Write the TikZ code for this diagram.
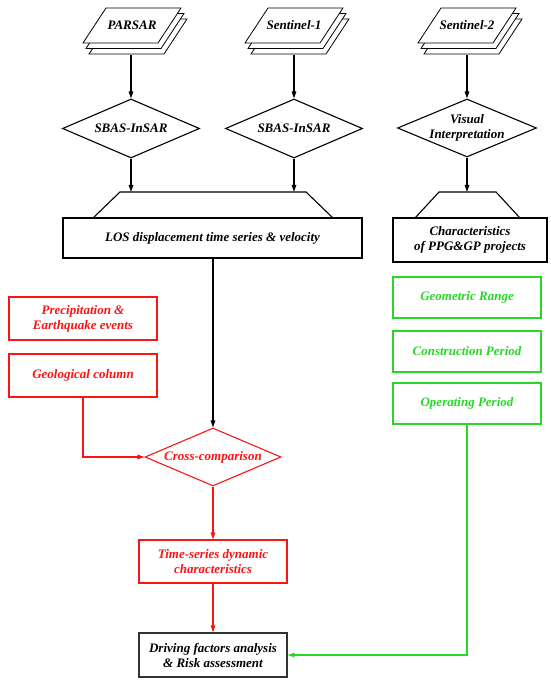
\documentclass[tikz,border=0pt]{standalone}
\usepackage{fontspec}
\setmainfont{Liberation Serif}
\usetikzlibrary{arrows.meta,shapes.geometric}
\definecolor{myred}{RGB}{250,20,20}
\definecolor{mygreen}{RGB}{40,215,40}
\definecolor{mygrey}{RGB}{50,50,50}
\begin{document}
\begin{tikzpicture}[x=1pt,y=-1pt,
  txt/.style={font=\fontsize{13}{15}\selectfont\bfseries\itshape, align=center},
  box/.style={txt, draw=black, line width=1.1pt, rectangle, inner sep=0pt},
  rbox/.style={box, draw=myred, text=myred},
  gbox/.style={box, draw=mygreen, text=mygreen},
  dia/.style={draw=black, line width=1.1pt, diamond, inner sep=0pt, minimum width=137pt, minimum height=59pt},
  trap/.style={draw=black, line width=1.1pt, line join=miter},
  arr/.style={-{Triangle[length=7pt,width=4.5pt]}, line width=1.3pt},
  sheet/.style={draw=black, fill=white, line width=0.8pt}]
\useasboundingbox (0,0) rectangle (550,684);
% document stacks
\foreach \xo in {83,245,418}{
  \foreach \s in {2,1,0}{
    \draw[sheet] ({\xo+23+3*\s},{8+5.5*\s}) -- ++(75,0) -- ++(-23,35) -- ++(-75,0) -- cycle;
  }
}
\node[txt] (parsar) at (132,25) {PARSAR};
\node[txt] (sen1) at (294,25) {Sentinel-1};
\node[txt] (sen2) at (467,25) {Sentinel-2};
\coordinate (parsarb) at (131,55);
\coordinate (sen1b) at (294,55);
\coordinate (sen2b) at (467,55);
% diamonds
\node[dia, label={[txt]center:SBAS-InSAR}] (sb1) at (131,128.5) {};
\node[dia, label={[txt]center:SBAS-InSAR}] (sb2) at (294,128.5) {};
\node[dia, minimum width=139pt, minimum height=58pt, label={[txt]center:Visual\\Interpretation}] (vis) at (467,128) {};
% LOS
\node[box, minimum width=299pt, minimum height=40pt] (los) at (212.5,238) {LOS displacement time series \& velocity};
\coordinate (t1bl) at (93,218);
\coordinate (t1tl) at (120,192);
\coordinate (t1tr) at (306,192);
\coordinate (t1br) at (333,218);
\draw[trap] (t1bl) -- (t1tl) -- (t1tr) -- (t1br);
\node[box, minimum width=154pt, minimum height=44pt] (chr) at (470,240) {Characteristics\\of PPG\&GP projects};
\coordinate (t2bl) at (415,218);
\coordinate (t2tl) at (439,192);
\coordinate (t2tr) at (496,192);
\coordinate (t2br) at (520,218);
\draw[trap] (t2bl) -- (t2tl) -- (t2tr) -- (t2br);
% arrows top
\draw[arr] (parsarb) -- (sb1.north);
\draw[arr] (sen1b) -- (sb2.north);
\draw[arr] (sen2b) -- (vis.north);
\draw[arr] (sb1.south) -- (sb1.south |- t1tl);
\draw[arr] (sb2.south) -- (sb2.south |- t1tl);
\draw[arr] (vis.south) -- (vis.south |- t2tl);
% red
\node[rbox, minimum width=148pt, minimum height=43pt] (pre) at (83,318.5) {Precipitation \&\\Earthquake events};
\node[rbox, minimum width=148pt, minimum height=43pt] (geo) at (83,375.5) {Geological column};
\node[dia, draw=myred, minimum width=136pt, minimum height=58pt, label={[txt, text=myred]center:Cross-comparison}] (cc) at (213,457) {};
\node[rbox, minimum width=148pt, minimum height=43pt] (ts) at (213,561.5) {Time-series dynamic\\characteristics};
\node[box, draw=mygrey, minimum width=148pt, minimum height=44pt] (drv) at (213,655) {Driving factors analysis\\\& Risk assessment};
\draw[arr] (los.south -| cc.north) -- (cc.north);
\draw[arr, color=myred] (geo.south) |- (cc.west);
\draw[arr, color=myred] (cc.south) -- (ts.north);
\draw[arr, color=myred] (ts.south) -- (drv.north);
% green
\node[gbox, minimum width=148pt, minimum height=41pt] (gr) at (467,297.5) {Geometric Range};
\node[gbox, minimum width=148pt, minimum height=41pt] (cp) at (467,351.5) {Construction Period};
\node[gbox, minimum width=148pt, minimum height=41pt] (op) at (467,403.5) {Operating Period};
\draw[arr, color=mygreen] (op.south) |- (drv.east);
\end{tikzpicture}
\end{document}
